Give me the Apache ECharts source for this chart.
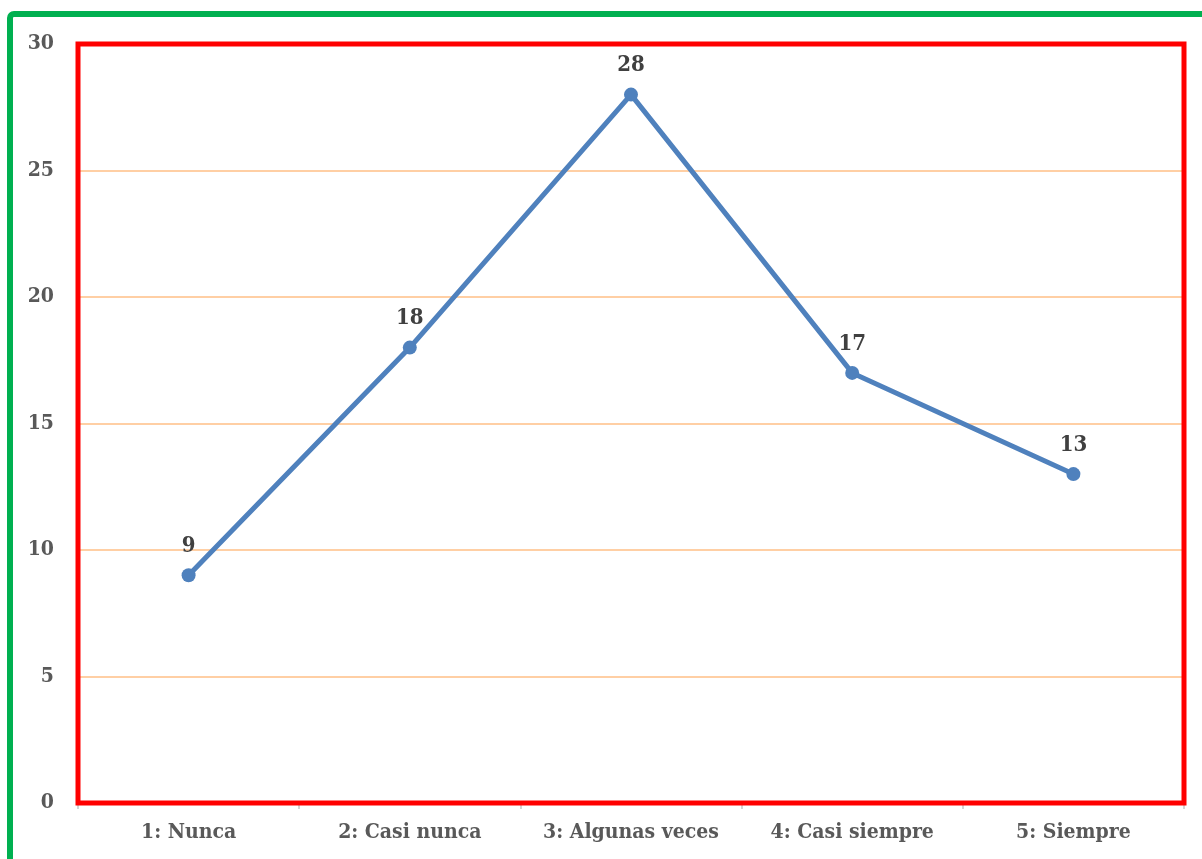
<!DOCTYPE html>
<html><head><meta charset="utf-8">
<script src="https://cdn.jsdelivr.net/npm/echarts@6/dist/echarts.min.js"></script>
<style>html,body{margin:0;padding:0;background:#fff}#c{width:1202px;height:859px}</style>
</head><body><div id="c"></div>
<script>
const categories = ['1: Nunca', '2: Casi nunca', '3: Algunas veces', '4: Casi siempre', '5: Siempre'];
const values = [9, 18, 28, 17, 13];
const yTicks = [0, 5, 10, 15, 20, 25, 30];

const FONT = '"DejaVu Serif Condensed", "DejaVu Serif", serif';
const chart = echarts.init(document.getElementById('c'), null, {renderer: 'canvas'});
chart.setOption({
  animation: false,
  backgroundColor: '#fff',
  grid: {left: 78, right: 18, top: 44, bottom: 56, show: true, borderColor: '#FF0000', borderWidth: 5, backgroundColor: 'transparent', z: 3},
  graphic: [{
    type: 'rect', z: 100,
    shape: {x: 10, y: 14, width: 1400, height: 1100, r: 4},
    style: {fill: 'none', stroke: '#00B050', lineWidth: 6}
  }],
  xAxis: {
    type: 'category', data: categories, boundaryGap: true,
    axisLine: {show: true, lineStyle: {color: '#D0D0D0', width: 1.5}},
    axisTick: {show: true, length: 6, lineStyle: {color: '#C8C8C8', width: 1.5}},
    axisLabel: {interval: 0, color: '#595959', fontFamily: FONT, fontWeight: 'bold', fontSize: 21, margin: 19}
  },
  yAxis: {
    type: 'value', min: yTicks[0], max: yTicks[yTicks.length - 1], interval: 5,
    axisLine: {show: false}, axisTick: {show: false},
    splitLine: {show: true, lineStyle: {color: '#FFBF86', width: 1.5}},
    axisLabel: {color: '#595959', fontFamily: FONT, fontWeight: 'bold', fontSize: 21, margin: 24}
  },
  series: [{
    type: 'line', data: values,
    lineStyle: {color: '#4F81BD', width: 5},
    itemStyle: {color: '#4F81BD'},
    symbol: 'circle', symbolSize: 14,
    label: {show: true, position: 'top', distance: 11, color: '#404040', fontFamily: FONT, fontWeight: 'bold', fontSize: 22}
  }]
});
</script></body></html>
